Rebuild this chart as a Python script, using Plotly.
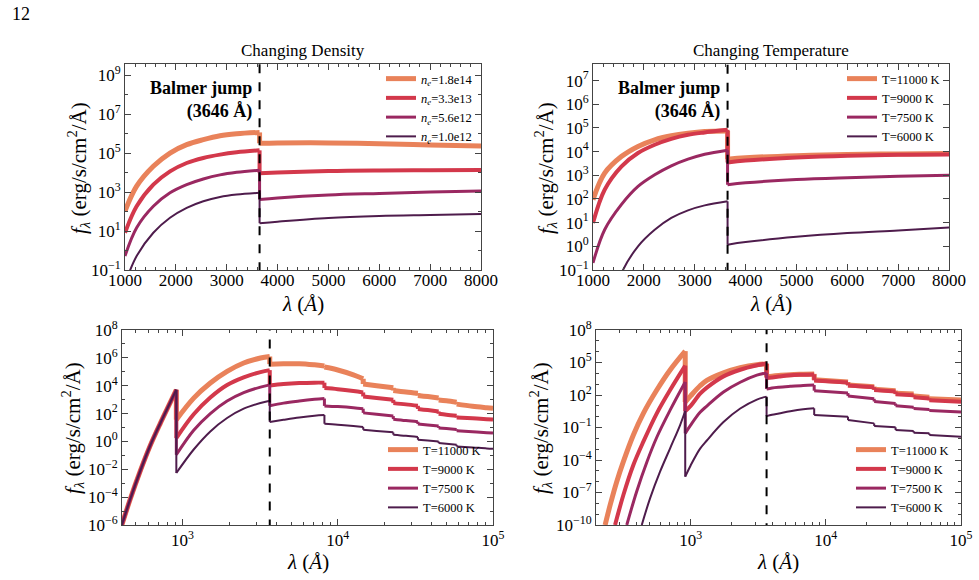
import plotly.graph_objects as go

W, H = 979, 580
FONT = "Liberation Serif"

# ------------------------------------------------------------------ data
BALMER_EDGE = 3646  # Angstrom

COLORS = ["#E9825A", "#D3384B", "#9A2861", "#4E1C4C"]
WIDTHS = [5, 4, 3, 2]
DENSITY_LABELS = ["<i>n<sub>e</sub></i>=1.8e14", "<i>n<sub>e</sub></i>=3.3e13",
                  "<i>n<sub>e</sub></i>=5.6e12", "<i>n<sub>e</sub></i>=1.0e12"]
TEMP_LABELS = ["T=11000 K", "T=9000 K", "T=7500 K", "T=6000 K"]

# values are log10 of f_lambda (erg/s/cm^2/A)
# --- top left: changing density, 1000-8000 A
dens_wave = [1000, 1229, 1557, 1885, 2213, 2540, 2868, 3196, 3646,
             3646, 4000, 5000, 6000, 7000, 8000]
dens_ne_1p8e14 = [2.02, 3.30, 4.32, 5.00, 5.43, 5.69, 5.89, 5.99, 6.06,
                  5.50, 5.52, 5.52, 5.48, 5.42, 5.36]
dens_ne_3p3e13 = [0.91, 2.27, 3.38, 4.06, 4.49, 4.75, 4.92, 5.04, 5.14,
                  3.97, 4.00, 4.08, 4.11, 4.12, 4.13]
dens_ne_5p6e12 = [-0.28, 1.17, 2.27, 2.96, 3.38, 3.67, 3.88, 4.01, 4.12,
                  2.62, 2.70, 2.85, 2.93, 3.00, 3.05]
dens_ne_1p0e12 = [-1.70, -0.28, 0.91, 1.68, 2.19, 2.53, 2.75, 2.87, 2.96,
                  1.40, 1.48, 1.67, 1.77, 1.82, 1.87]

# --- top right: changing temperature, 1000-8000 A
temp_wave = [1000, 1229, 1557, 1885, 2213, 2540, 2868, 3196, 3646,
             3646, 4000, 5000, 6000, 7000, 8000]
temp_t11000 = [1.97, 3.09, 3.79, 4.22, 4.50, 4.67, 4.78, 4.85, 4.87,
               3.68, 3.74, 3.83, 3.88, 3.90, 3.92]
temp_t9000 = [0.99, 2.39, 3.37, 3.94, 4.29, 4.54, 4.71, 4.81, 4.92,
              3.54, 3.62, 3.75, 3.83, 3.87, 3.88]
temp_t7500 = [-0.70, 0.70, 1.76, 2.53, 3.02, 3.40, 3.68, 3.89, 4.06,
              2.60, 2.68, 2.82, 2.90, 2.96, 3.00]
temp_t6000 = [-6.50, -3.50, -1.15, 0.00, 0.70, 1.20, 1.52, 1.73, 1.90,
              0.07, 0.18, 0.40, 0.56, 0.67, 0.79]

# --- bottom left: wide range (shared Lyman part, then per-series)
bl_lyman_wave = [407, 460, 535, 619, 719, 834, 912]
bl_lyman_logf = [-5.98, -4.15, -2.10, -0.30, 1.30, 2.80, 3.71]
bl_wave = [912, 1180, 1510, 1936, 2477, 3177, 3646,
           3646, 4470, 5650, 7080, 8204,
           8204, 10000, 12600, 14584,
           14584, 17800, 22794,
           22794, 27500, 32823,
           32823, 38000, 44652,
           44652, 50100, 58323,
           58323, 73800, 91200, 100000]
bl_t11000 = [1.56, 3.11, 4.19, 5.03, 5.63, 5.99, 6.10,
             5.55, 5.57, 5.58, 5.50, 5.42,
             5.34, 5.13, 4.78, 4.50,
             4.12, 4.00, 3.85,
             3.66, 3.55, 3.46,
             3.30, 3.22, 3.12,
             2.98, 2.92, 2.82,
             2.68, 2.52, 2.42, 2.38]
bl_t9000 = [0.24, 1.95, 3.15, 4.05, 4.60, 4.98, 5.12,
            4.02, 4.12, 4.19, 4.22, 4.22,
            3.83, 3.75, 3.62, 3.52,
            3.23, 3.12, 2.99,
            2.75, 2.66, 2.56,
            2.33, 2.25, 2.15,
            1.99, 1.92, 1.84,
            1.72, 1.66, 1.60, 1.57]
bl_t7500 = [-0.96, 0.80, 2.00, 2.90, 3.50, 3.90, 4.06,
            2.56, 2.75, 2.90, 3.02, 3.08,
            2.55, 2.50, 2.42, 2.35,
            2.05, 1.95, 1.82,
            1.60, 1.50, 1.42,
            1.25, 1.18, 1.10,
            0.97, 0.92, 0.86,
            0.77, 0.70, 0.63, 0.60]
bl_t6000 = [-2.27, -0.58, 0.72, 1.68, 2.35, 2.76, 2.92,
            1.39, 1.55, 1.72, 1.85, 1.90,
            1.27, 1.20, 1.10, 1.03,
            0.84, 0.75, 0.65,
            0.48, 0.40, 0.31,
            0.12, 0.06, 0.00,
            -0.12, -0.17, -0.24,
            -0.36, -0.43, -0.50, -0.52]

# --- bottom right: wide range, per-series rise before the Lyman edge
br_pre_wave_t11000 = [233, 254, 284, 318, 377, 447, 562, 705, 912]
br_pre_logf_t11000 = [-10.0, -8.15, -6.0, -4.15, -1.69, 0.31, 2.46, 4.31, 6.05]
br_pre_wave_t9000 = [276, 318, 377, 447, 562, 705, 912]
br_pre_logf_t9000 = [-10.0, -7.23, -4.46, -2.31, 0.31, 2.46, 4.71]
br_pre_wave_t7500 = [337, 399, 474, 562, 705, 912]
br_pre_logf_t7500 = [-10.0, -6.9, -4.2, -1.9, 0.6, 3.2]
br_pre_wave_t6000 = [435, 501, 594, 705, 836, 912]
br_pre_logf_t6000 = [-10.0, -7.54, -5.08, -2.92, -0.77, 0.52]

br_post_wave = [912, 1000, 1175, 1318, 1750, 2328, 3090, 3646,
                3646, 4000, 4500, 5458, 6800, 8204,
                8204, 14584,
                14584, 22794,
                22794, 32823,
                32823, 44652,
                44652, 58323,
                58323, 100000]
br_post_t11000 = [1.35, 1.92, 2.85, 3.35, 4.05, 4.52, 4.80, 4.86,
                  3.68, 3.74, 3.80, 3.88, 3.92, 3.95,
                  3.40, 3.20,
                  2.92, 2.77,
                  2.52, 2.40,
                  2.15, 2.09,
                  1.90, 1.79,
                  1.65, 1.55]
br_post_t9000 = [0.50, 0.99, 2.12, 2.68, 3.72, 4.33, 4.74, 4.92,
                 3.56, 3.62, 3.70, 3.82, 3.87, 3.90,
                 3.35, 3.15,
                 2.88, 2.72,
                 2.47, 2.33,
                 2.08, 1.98,
                 1.80, 1.68,
                 1.52, 1.38]
br_post_t7500 = [-1.54, -0.78, 0.40, 0.98, 2.28, 3.18, 3.83, 4.04,
                 2.55, 2.65, 2.72, 2.80, 2.88, 2.92,
                 2.40, 2.18,
                 1.90, 1.65,
                 1.40, 1.22,
                 1.00, 0.88,
                 0.75, 0.66,
                 0.56, 0.42]
br_post_t6000 = [-5.54, -4.50, -2.95, -2.20, -0.50, 0.75, 1.58, 1.85,
                 0.05, 0.18, 0.30, 0.50, 0.68, 0.77,
                 0.15, 0.00,
                 -0.31, -0.62,
                 -0.86, -0.98,
                 -1.23, -1.32,
                 -1.48, -1.54,
                 -1.69, -1.85]

# tick labels
TOP_X_TICKS = [1000, 2000, 3000, 4000, 5000, 6000, 7000, 8000]
TL_Y_EXP = [-1, 1, 3, 5, 7, 9]
TR_Y_EXP = [-1, 0, 1, 2, 3, 4, 5, 6, 7]
BL_Y_EXP = [-6, -4, -2, 0, 2, 4, 6, 8]
BR_Y_EXP = [-10, -7, -4, -1, 2, 5, 8]
BOT_X_EXP = [3, 4, 5]

# ------------------------------------------------------------------ helpers
def fx(px):
    return px / W


def fy(py):
    return 1 - py / H


def pow_label(e):
    s = str(e).replace("-", "\u2212")
    return "10<sup>%s</sup>" % s


def to_lin(vals):
    return [10 ** v for v in vals]


def split_runs(wave, logf):
    """Split a spectrum at its jumps (repeated wavelength) into smooth runs."""
    runs, cur_x, cur_y = [], [wave[0]], [logf[0]]
    for xv, yv in zip(wave[1:], logf[1:]):
        if xv == cur_x[-1]:
            runs.append((cur_x, cur_y))
            cur_x, cur_y = [xv], [yv]
        else:
            cur_x.append(xv)
            cur_y.append(yv)
    runs.append((cur_x, cur_y))
    return runs


fig = go.Figure()

panels = [
    ("x", "y", "legend", DENSITY_LABELS,
     [(dens_wave, s) for s in (dens_ne_1p8e14, dens_ne_3p3e13, dens_ne_5p6e12, dens_ne_1p0e12)]),
    ("x2", "y2", "legend2", TEMP_LABELS,
     [(temp_wave, s) for s in (temp_t11000, temp_t9000, temp_t7500, temp_t6000)]),
    ("x3", "y3", "legend3", TEMP_LABELS,
     [(bl_lyman_wave + bl_wave, bl_lyman_logf + s)
      for s in (bl_t11000, bl_t9000, bl_t7500, bl_t6000)]),
    ("x4", "y4", "legend4", TEMP_LABELS,
     [(br_pre_wave_t11000 + br_post_wave, br_pre_logf_t11000 + br_post_t11000),
      (br_pre_wave_t9000 + br_post_wave, br_pre_logf_t9000 + br_post_t9000),
      (br_pre_wave_t7500 + br_post_wave, br_pre_logf_t7500 + br_post_t7500),
      (br_pre_wave_t6000 + br_post_wave, br_pre_logf_t6000 + br_post_t6000)]),
]

for xa, ya, lg, labels, series in panels:
    for i, (wave, logf) in enumerate(series):
        group = "%s_%d" % (xa, i)
        runs = split_runs(wave, logf)
        for k, (rx, ry) in enumerate(runs):
            fig.add_trace(go.Scatter(
                x=rx, y=to_lin(ry), mode="lines", name=labels[i],
                line=dict(color=COLORS[i], width=WIDTHS[i], shape="spline", smoothing=1.0),
                xaxis=xa, yaxis=ya, legend=lg, legendgroup=group,
                showlegend=(k == 0), hoverinfo="skip"))
            if k + 1 < len(runs):
                nx, ny = runs[k + 1]
                fig.add_trace(go.Scatter(
                    x=[rx[-1], nx[0]], y=to_lin([ry[-1], ny[0]]), mode="lines",
                    line=dict(color=COLORS[i], width=WIDTHS[i]),
                    xaxis=xa, yaxis=ya, legend=lg, legendgroup=group,
                    showlegend=False, hoverinfo="skip"))
    fig.add_trace(go.Scatter(
        x=[BALMER_EDGE, BALMER_EDGE], y=[1e-14, 1e14], mode="lines",
        line=dict(color="black", width=2, dash="dash"),
        xaxis=xa, yaxis=ya, showlegend=False, hoverinfo="skip"))

# ------------------------------------------------------------------ axes
base = dict(showline=True, linecolor="#444", linewidth=1, mirror="allticks",
            ticks="inside", ticklen=6, tickwidth=1, tickcolor="#444",
            showgrid=False, zeroline=False, automargin=False,
            tickfont=dict(family=FONT, size=17, color="black"))


def xax(domain, anchor, **kw):
    d = dict(base)
    d.update(domain=domain, anchor=anchor)
    d.update(kw)
    return d


top_x = dict(range=[1000, 8000], tickmode="array", tickvals=TOP_X_TICKS,
             ticktext=[str(v) for v in TOP_X_TICKS], ticklabelstandoff=-5,
             minor=dict(ticks="inside", ticklen=3, dtick=200, tick0=0, tickcolor="#444"))
bot_x = dict(type="log", tickmode="array", tickvals=[10 ** e for e in BOT_X_EXP],
             ticktext=[pow_label(e) for e in BOT_X_EXP],
             minor=dict(ticks="inside", ticklen=3, dtick="D1", tickcolor="#444"))


def ylog(exps, rng):
    return dict(type="log", range=rng, tickmode="array",
                tickvals=[10 ** e for e in exps], ticktext=[pow_label(e) for e in exps],
                minor=dict(ticks="inside", ticklen=3, dtick=1, tick0=0, tickcolor="#444"))


fig.update_layout(
    xaxis=xax([fx(125), fx(481)], "y", **top_x),
    yaxis=xax([fy(270), fy(64)], "x", **ylog(TL_Y_EXP, [-1, 9.57])),
    xaxis2=xax([fx(593), fx(949)], "y2", **top_x),
    yaxis2=xax([fy(270), fy(64)], "x2", **ylog(TR_Y_EXP, [-1, 7.7])),
    xaxis3=xax([fx(122), fx(493)], "y3", range=[2.61, 5.0], **bot_x),
    yaxis3=xax([fy(525), fy(330)], "x3", **ylog(BL_Y_EXP, [-6, 8])),
    xaxis4=xax([fx(596), fx(961)], "y4", range=[2.30, 5.0], **bot_x),
    yaxis4=xax([fy(525), fy(330)], "x4", **ylog(BR_Y_EXP, [-10, 8])),
)

leg = dict(bgcolor="rgba(0,0,0,0)", font=dict(family=FONT, size=12.5, color="black"),
           tracegroupgap=0, itemwidth=30)
fig.update_layout(
    legend=dict(leg, x=fx(478), y=fy(64), xanchor="right", yanchor="top"),
    legend2=dict(leg, x=fx(945), y=fy(64), xanchor="right", yanchor="top"),
    legend3=dict(leg, x=fx(486), y=fy(522), xanchor="right", yanchor="bottom"),
    legend4=dict(leg, x=fx(954), y=fy(522), xanchor="right", yanchor="bottom"),
)

# ------------------------------------------------------------------ text
def ann(text, px, py, size, **kw):
    d = dict(text=text, x=fx(px), y=fy(py), xref="paper", yref="paper",
             showarrow=False, xanchor="center", yanchor="middle",
             font=dict(family=FONT, size=size, color="black"))
    d.update(kw)
    return d


YTITLE = "<i>f<sub>\u03bb</sub></i> (erg/s/cm<sup>2</sup>/\u00c5)"
XTITLE = "<i>\u03bb</i> (<i>\u00c5</i>)"
BALMER = "<b>Balmer jump</b><br><b>(3646 \u00c5)</b>"

annotations = [
    ann("12", 10, 14, 18, xanchor="left"),
    ann("Changing Density", 303, 50, 17),
    ann("Changing Temperature", 771, 50, 17),
    ann(XTITLE, 303, 304, 21),
    ann(XTITLE, 771, 304, 21),
    ann(XTITLE, 308, 562, 21),
    ann(XTITLE, 778, 562, 21),
    ann(YTITLE, 78, 168, 21, textangle=-90),
    ann(YTITLE, 545, 168, 21, textangle=-90),
    ann(YTITLE, 72, 428, 21, textangle=-90),
    ann(YTITLE, 540, 428, 21, textangle=-90),
    ann(BALMER, 254, 100, 18, xanchor="right", align="right"),
    ann(BALMER, 722, 100, 18, xanchor="right", align="right"),
]

fig.update_layout(
    width=W, height=H, margin=dict(l=0, r=0, t=0, b=0, pad=0, autoexpand=False),
    paper_bgcolor="white", plot_bgcolor="white",
    annotations=annotations, showlegend=True,
)

fig.write_html("out.html", config={"displayModeBar": False})
